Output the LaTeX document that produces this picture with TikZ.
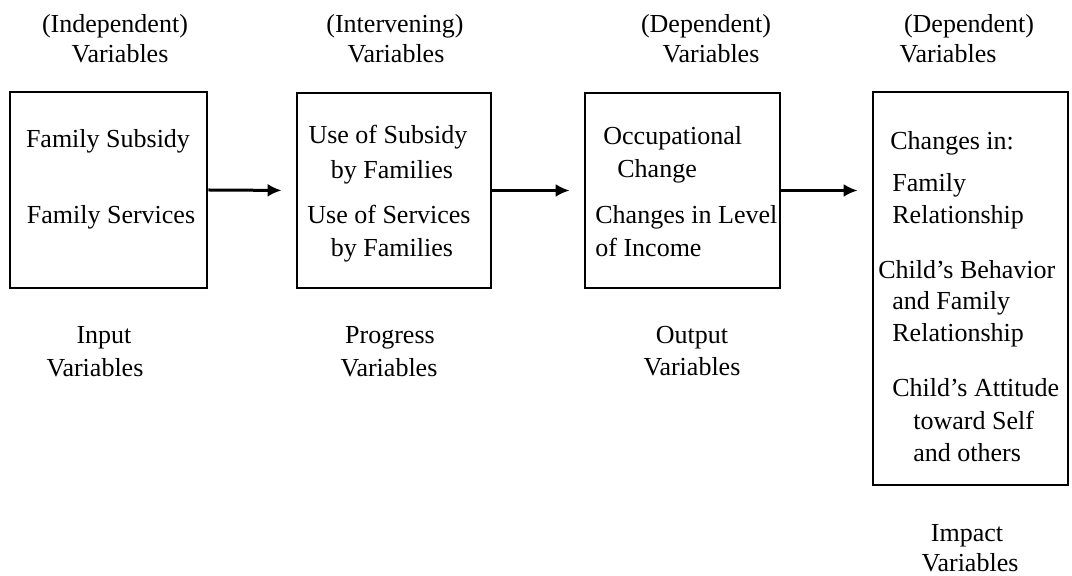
\documentclass[tikz,border=0pt]{standalone}
\usepackage{fontspec}
\setmainfont{Liberation Serif}
\usetikzlibrary{arrows.meta}

\begin{document}
\begin{tikzpicture}[x=0.5pt,y=-0.5pt,
  font=\fontsize{13}{16}\selectfont,
  box/.style={draw,line width=1.4pt,inner sep=0pt},
  lbl/.style={anchor=base,inner sep=0pt},
  lft/.style={anchor=base west,inner sep=0pt},
  flow/.style={line width=1.5pt,-{Latex[length=7pt,width=6.5pt]},shorten >=7pt}]
\useasboundingbox (0,0) rectangle (1072,576);

% boxes
\node[box,minimum width=98.5pt,minimum height=98pt] (inbox) at (108.5,190) {};
\node[box,minimum width=97pt,minimum height=97.5pt] (progbox) at (394,190.5) {};
\node[box,minimum width=97.5pt,minimum height=97.5pt] (outbox) at (682.5,190.5) {};
\node[box,minimum width=97.5pt,minimum height=196.5pt] (impbox) at (970.5,288.5) {};

% headings
\node[lbl] (h1) at (115,33) {(Independent)};
\node[lbl] (h1v) at (120,63) {Variables};
\node[lbl] (h2) at (395,33) {(Intervening)};
\node[lbl] (h2v) at (396,63) {Variables};
\node[lbl] (h3) at (706,33) {(Dependent)};
\node[lbl] (h3v) at (711,63) {Variables};
\node[lbl] (h4) at (969,33) {(Dependent)};
\node[lbl] (h4v) at (948,63) {Variables};

% input
\node[lbl] (subsidy) at (108,148) {Family Subsidy};
\node[lbl] (services) at (111,224) {Family Services};

% progress
\node[lbl] (usesub) at (388,144) {Use of Subsidy};
\node[lbl] (usesubb) at (392,179) {by Families};
\node[lbl] (useserv) at (389,224) {Use of Services};
\node[lbl] (useservb) at (392,257) {by Families};

% output
\node[lft] (occ) at (603,145) {Occupational};
\node[lft] (occb) at (617,178) {Change};
\node[lft] (income) at (595,224) {Changes in Level};
\node[lft] (incomeb) at (595,257) {of Income};

% impact
\node[lft] (chg) at (890,150) {Changes in:};
\node[lft] (fam) at (892,192) {Family};
\node[lft] (famb) at (892,224) {Relationship};
\node[lft] (beh) at (878,279) {Child's Behavior};
\node[lft] (behb) at (892,310) {and Family};
\node[lft] (behc) at (892,342) {Relationship};
\node[lft] (att) at (892,397) {Child's Attitude};
\node[lft] (attb) at (913,430) {toward Self};
\node[lft] (attc) at (913,462) {and others};

% below
\node[lbl] (f1) at (104,344) {Input};
\node[lbl] (f1v) at (95,377) {Variables};
\node[lbl] (f2) at (390,344) {Progress};
\node[lbl] (f2v) at (389,377) {Variables};
\node[lbl] (f3) at (692,344) {Output};
\node[lbl] (f3v) at (692,376) {Variables};
\node[lbl] (f4) at (967,542) {Impact};
\node[lbl] (f4v) at (970,572) {Variables};

% arrows
\draw[flow] (inbox.east) -- (progbox.west);
\draw[flow] (progbox.east) -- (outbox.east -| outbox.west);
\draw[flow] (outbox.east) -- (outbox.east -| impbox.west);
\end{tikzpicture}
\end{document}
